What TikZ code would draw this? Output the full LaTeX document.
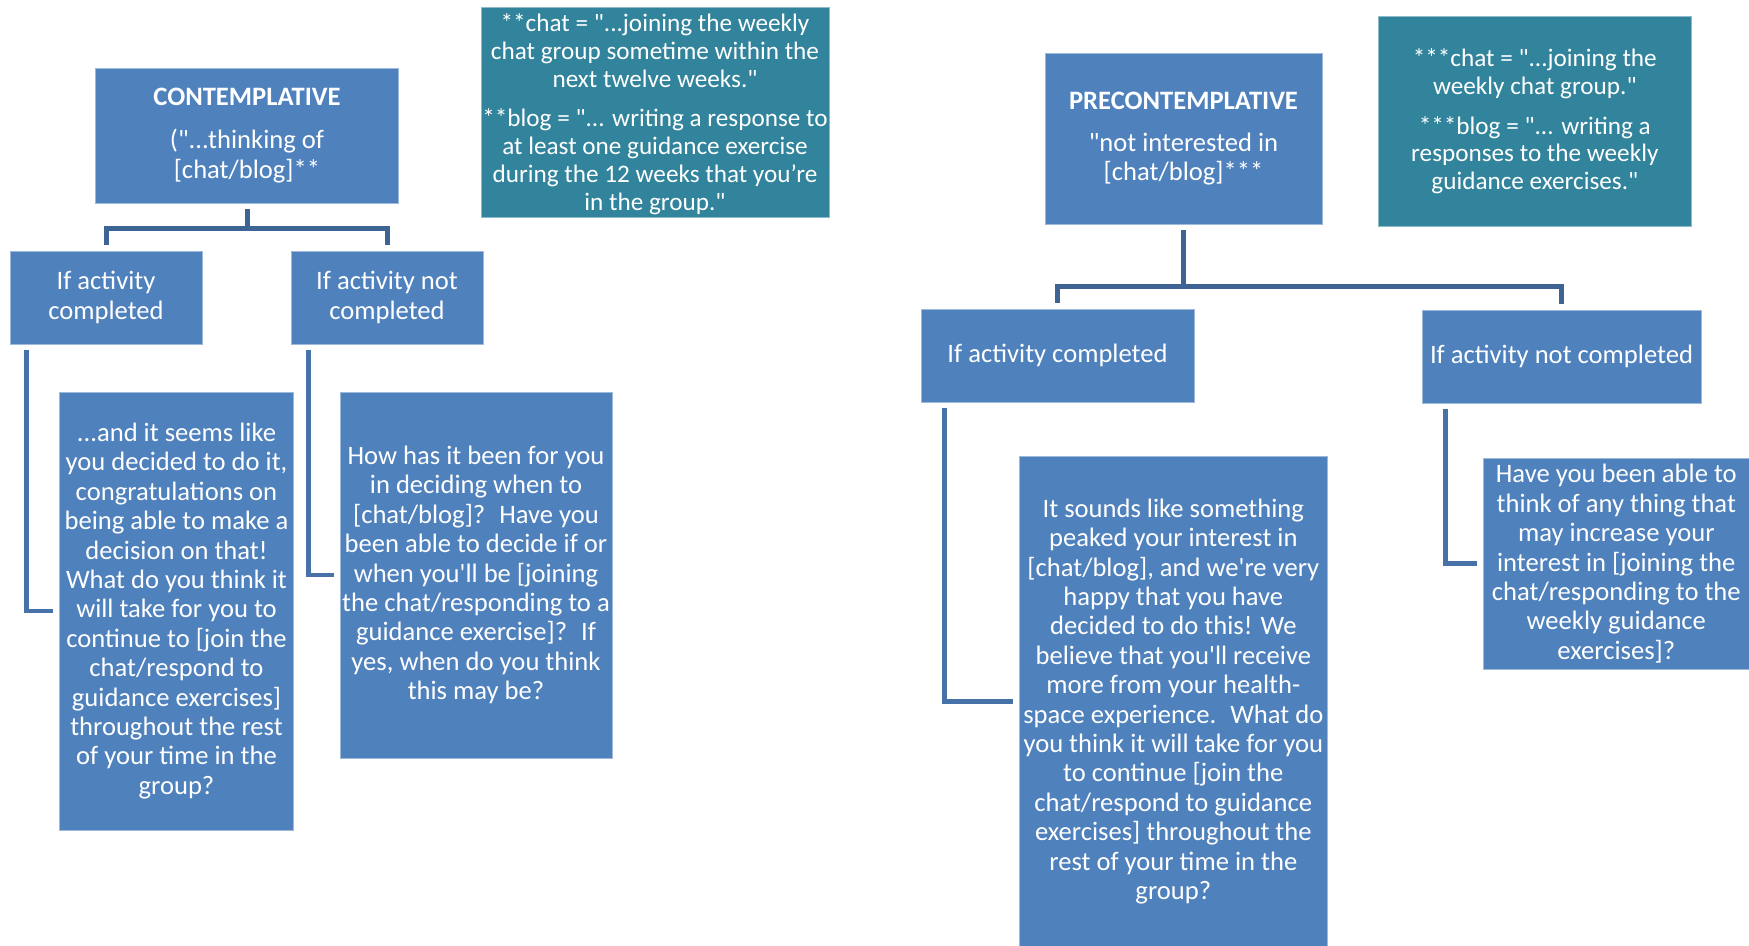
\documentclass[tikz,border=0pt]{standalone}
\usepackage{fontspec}
\setmainfont{Carlito}[Ligatures=TeXOff]
\definecolor{boxblue}{RGB}{79,129,189}
\definecolor{tealbox}{RGB}{49,132,155}
\definecolor{linedark}{RGB}{62,100,148}
\definecolor{lineblue}{RGB}{70,114,168}
\tikzset{
 box/.style={fill=boxblue, draw=boxblue!55!white, line width=0.4pt, text=white, align=center, inner sep=0pt, font=\fontsize{13.3}{14.7}\selectfont},
 note/.style={fill=tealbox, draw=tealbox!55!white, line width=0.4pt, text=white, align=center, inner sep=0pt, font=\fontsize{12.6}{13.95}\selectfont},
 bracket/.style={draw=linedark, line width=2.5pt},
 elbow/.style={draw=lineblue, line width=2.4pt},
}
\begin{document}
\begin{tikzpicture}[x=0.5pt,y=-0.5pt]
\useasboundingbox (0,0) rectangle (1749,946);
\clip (0,0) rectangle (1749,946);
% left tree
\node[box, minimum width=151.5pt, minimum height=67.5pt] (cont) at (247,135.5)
 {\textbf{CONTEMPLATIVE}\\[7pt] ("...thinking of\\ {[}chat/blog]**};
\node[note, minimum width=174pt, minimum height=105pt] (teal1) at (655,112)
 {\rule{0pt}{11pt}**chat = "...joining the weekly\\ chat group sometime within the\\ next twelve weeks."\\[5.5pt]
  **blog = "... writing a response to\\ at least one guidance exercise\\ during the 12 weeks that you’re\\ in the group."};
\node[box, minimum width=96pt, minimum height=46.5pt] (c1) at (106,297.5) {If activity\\ completed};
\node[box, minimum width=96pt, minimum height=46.5pt] (c2) at (387,297.5) {If activity not\\ completed};
\node[box, minimum width=117pt, minimum height=219pt] (q1) at (176.5,611)
 {...and it seems like\\ you decided to do it,\\ congratulations on\\ being able to make a\\ decision on that!\\ What do you think it\\ will take for you to\\ continue to [join the\\ chat/respond to\\ guidance exercises]\\ throughout the rest\\ of your time in the\\ group?};
\node[box, minimum width=136pt, minimum height=183pt] (q2) at (476,575)
 {How has it been for you\\ in deciding when to\\ {[}chat/blog]?~ Have you\\ been able to decide if or\\ when you'll be [joining\\ the chat/responding to a\\ guidance exercise]?~ If\\ yes, when do you think\\ this may be?};
% right tree
\node[box, minimum width=138.5pt, minimum height=85.25pt] (pre) at (1183.5,138.75)
 {\textbf{PRECONTEMPLATIVE}\\[6pt] "not interested in\\ {[}chat/blog]***};
\node[note, minimum width=156.2pt, minimum height=104.75pt] (teal2) at (1534.8,121.25)
 {***chat = "...joining the\\ weekly chat group."\\[6pt] ***blog = "... writing a\\ responses to the weekly\\ guidance exercises."};
\node[box, minimum width=136.5pt, minimum height=46.25pt] (d1) at (1057.5,355.75) {If activity completed};
\node[box, minimum width=139.5pt, minimum height=46.5pt] (d2) at (1561.5,356.5) {If activity not completed};
\node[box, minimum width=153.7pt, minimum height=245.5pt] (r1) at (1173.3,701.5)
 {It sounds like something\\ peaked your interest in\\ {[}chat/blog], and we're very\\ happy that you have\\ decided to do this! We\\ believe that you'll receive\\ more from your health-\\ space experience.~ What do\\ you think it will take for you\\ to continue [join the\\ chat/respond to guidance\\ exercises] throughout the\\ rest of your time in the\\ group?};
\node[box, minimum width=132.7pt, minimum height=105.25pt] (r2) at (1616.3,563.75)
 {Have you been able to\\ think of any thing that\\ may increase your\\ interest in [joining the\\ chat/responding to the\\ weekly guidance\\ exercises]?};
% connectors
\draw[bracket] ([yshift=-3pt]cont.south) -- ++(0,19) -| ([yshift=3pt]c1.north);
\draw[bracket] ([yshift=-3pt]cont.south) -- ++(0,19) -| ([yshift=3pt]c2.north);
\draw[bracket] ([yshift=-3pt]pre.south) -- ++(0,56) -| ([yshift=3pt]d1.north);
\draw[bracket] ([yshift=-3pt]pre.south) -- ++(0,56) -| ([yshift=3pt]d2.north);
\draw[elbow] ([xshift=8.5pt,yshift=-3pt]c1.south west) |- ([xshift=-3pt]q1.west);
\draw[elbow] ([xshift=9pt,yshift=-3pt]c2.south west) |- ([xshift=-3pt]q2.west);
\draw[elbow] ([xshift=12pt,yshift=-3pt]d1.south west) |- ([xshift=-3pt]r1.west);
\draw[elbow] ([xshift=12pt,yshift=-3pt]d2.south west) |- ([xshift=-3pt]r2.west);
\end{tikzpicture}
\end{document}
